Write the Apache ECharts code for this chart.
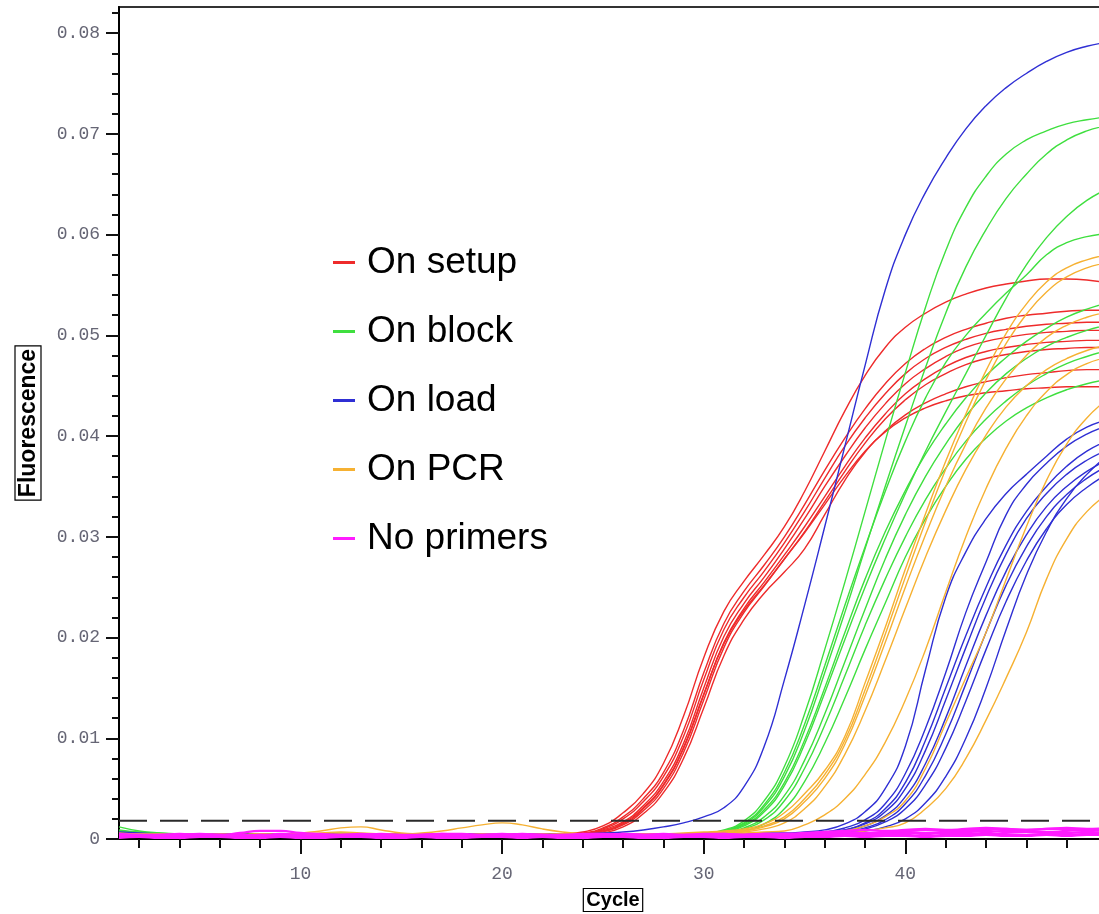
<!DOCTYPE html>
<html>
<head>
<meta charset="utf-8">
<script src="https://cdn.jsdelivr.net/npm/echarts@6/dist/echarts.min.js"></script>
<style>
  html, body { margin: 0; padding: 0; background: #fff; }
  #chart { width: 1099px; height: 914px; }
</style>
</head>
<body>
<div id="chart"></div>
<script>
// cycle numbers (x) and axis labels
var cycles = [1,2,3,4,5,6,7,8,9,10,11,12,13,14,15,16,17,18,19,20,21,22,23,24,25,26,27,28,29,30,31,32,33,34,35,36,37,38,39,40,41,42,43,44,45,46,47,48,49,50];
var xTickLabels = [10, 20, 30, 40];
var xMinorTicks = [2,4,6,8,12,14,16,18,22,24,26,28,32,34,36,38,42,44,46,48];
var yTickLabels = [0, 0.01, 0.02, 0.03, 0.04, 0.05, 0.06, 0.07, 0.08];
var threshold = 0.0018;

var groupNames = ['On setup', 'On block', 'On load', 'On PCR', 'No primers'];
var groupColors = ['#ee2b2b', '#3fdf3f', '#2f2fd4', '#f6b132', '#ff1cff'];

// fluorescence per cycle, one array per well
var setupRuns = [
  [0.0007,0.0006,0.0005,0.0005,0.0004,0.0004,0.0005,0.0004,0.0004,0.0003,0.0004,0.0005,0.0004,0.0004,0.0003,0.0004,0.0004,0.0005,0.0004,0.0003,0.0004,0.0004,0.0005,
   0.0007,0.0013,0.0026,0.0045,0.0075,0.0122,0.0180,0.0226,0.0256,0.0282,0.0310,0.0345,0.0385,0.0425,0.0460,0.0488,0.0508,0.0522,0.0533,0.0541,0.0547,0.0551,0.0554,0.0556,0.0556,0.0555,0.0552],
  [0.0005,0.0005,0.0004,0.0004,0.0005,0.0004,0.0003,0.0004,0.0004,0.0005,0.0004,0.0003,0.0003,0.0004,0.0005,0.0005,0.0004,0.0004,0.0003,0.0004,0.0004,0.0005,0.0005,
   0.0006,0.0011,0.0022,0.0040,0.0066,0.0108,0.0165,0.0214,0.0246,0.0272,0.0300,0.0332,0.0366,0.0398,0.0427,0.0452,0.0472,0.0487,0.0498,0.0506,0.0512,0.0517,0.0520,0.0522,0.0524,0.0525,0.0525],
  [0.0004,0.0004,0.0005,0.0004,0.0003,0.0004,0.0004,0.0005,0.0005,0.0004,0.0003,0.0004,0.0004,0.0005,0.0004,0.0003,0.0004,0.0005,0.0005,0.0004,0.0003,0.0004,0.0004,
   0.0005,0.0010,0.0020,0.0037,0.0062,0.0102,0.0158,0.0208,0.0240,0.0266,0.0294,0.0325,0.0358,0.0390,0.0418,0.0442,0.0462,0.0477,0.0488,0.0496,0.0502,0.0506,0.0509,0.0511,0.0512,0.0513,0.0513],
  [0.0006,0.0005,0.0004,0.0003,0.0004,0.0005,0.0004,0.0004,0.0003,0.0004,0.0005,0.0004,0.0004,0.0003,0.0004,0.0004,0.0005,0.0004,0.0003,0.0004,0.0005,0.0004,0.0004,
   0.0005,0.0009,0.0017,0.0033,0.0057,0.0095,0.0150,0.0201,0.0234,0.0260,0.0288,0.0318,0.0350,0.0380,0.0408,0.0432,0.0452,0.0467,0.0479,0.0488,0.0494,0.0498,0.0501,0.0503,0.0504,0.0505,0.0505],
  [0.0004,0.0003,0.0004,0.0005,0.0004,0.0004,0.0003,0.0003,0.0004,0.0004,0.0005,0.0004,0.0003,0.0004,0.0004,0.0003,0.0004,0.0004,0.0005,0.0004,0.0004,0.0003,0.0004,
   0.0005,0.0008,0.0015,0.0030,0.0053,0.0090,0.0143,0.0195,0.0229,0.0255,0.0282,0.0310,0.0340,0.0370,0.0398,0.0422,0.0442,0.0457,0.0469,0.0478,0.0484,0.0488,0.0491,0.0493,0.0494,0.0495,0.0495],
  [0.0005,0.0004,0.0004,0.0003,0.0003,0.0004,0.0005,0.0004,0.0004,0.0003,0.0003,0.0004,0.0004,0.0005,0.0004,0.0004,0.0003,0.0003,0.0004,0.0004,0.0005,0.0004,0.0003,
   0.0004,0.0007,0.0014,0.0028,0.0050,0.0086,0.0138,0.0190,0.0225,0.0251,0.0278,0.0305,0.0335,0.0365,0.0393,0.0417,0.0436,0.0451,0.0462,0.0471,0.0477,0.0481,0.0484,0.0486,0.0487,0.0488,0.0488],
  [0.0006,0.0005,0.0005,0.0004,0.0004,0.0003,0.0004,0.0004,0.0005,0.0004,0.0004,0.0003,0.0004,0.0005,0.0005,0.0004,0.0003,0.0004,0.0004,0.0005,0.0004,0.0003,0.0004,
   0.0005,0.0008,0.0016,0.0031,0.0054,0.0091,0.0144,0.0194,0.0227,0.0252,0.0278,0.0304,0.0332,0.0360,0.0385,0.0405,0.0421,0.0433,0.0442,0.0449,0.0454,0.0458,0.0461,0.0463,0.0465,0.0466,0.0466],
  [0.0004,0.0004,0.0003,0.0004,0.0005,0.0004,0.0004,0.0003,0.0003,0.0004,0.0004,0.0005,0.0004,0.0004,0.0003,0.0004,0.0005,0.0004,0.0003,0.0003,0.0004,0.0004,0.0004,
   0.0004,0.0006,0.0012,0.0025,0.0046,0.0080,0.0130,0.0182,0.0218,0.0244,0.0265,0.0288,0.0322,0.0356,0.0384,0.0404,0.0418,0.0428,0.0435,0.0440,0.0443,0.0445,0.0447,0.0448,0.0449,0.0449,0.0449]
];

var blockRuns = [
  [0.0012,0.0008,0.0006,0.0005,0.0005,0.0004,0.0005,0.0005,0.0004,0.0004,0.0005,0.0006,0.0005,0.0004,0.0004,0.0005,0.0005,0.0004,0.0004,0.0005,0.0004,0.0004,0.0005,0.0005,0.0004,0.0004,0.0005,0.0005,0.0005,
   0.0006,0.0009,0.0018,0.0038,0.0072,0.0124,0.0188,0.0255,0.0325,0.0395,0.0463,0.0528,0.0584,0.0627,0.0658,0.0680,0.0694,0.0703,0.0710,0.0714,0.0717],
  [0.0009,0.0007,0.0006,0.0005,0.0004,0.0004,0.0005,0.0004,0.0004,0.0005,0.0005,0.0004,0.0004,0.0003,0.0004,0.0005,0.0004,0.0004,0.0005,0.0005,0.0004,0.0004,0.0004,0.0005,0.0004,0.0004,0.0004,0.0005,0.0005,
   0.0005,0.0008,0.0015,0.0032,0.0062,0.0108,0.0165,0.0225,0.0288,0.0350,0.0410,0.0468,0.0522,0.0568,0.0605,0.0636,0.0660,0.0680,0.0694,0.0703,0.0708],
  [0.0007,0.0006,0.0005,0.0004,0.0004,0.0005,0.0004,0.0003,0.0004,0.0004,0.0005,0.0005,0.0004,0.0004,0.0005,0.0004,0.0003,0.0004,0.0004,0.0005,0.0004,0.0004,0.0005,0.0004,0.0004,0.0005,0.0004,0.0004,0.0005,
   0.0005,0.0007,0.0013,0.0027,0.0053,0.0094,0.0145,0.0198,0.0250,0.0298,0.0343,0.0385,0.0424,0.0462,0.0500,0.0537,0.0570,0.0597,0.0618,0.0634,0.0645],
  [0.0008,0.0006,0.0005,0.0005,0.0004,0.0004,0.0004,0.0005,0.0005,0.0004,0.0003,0.0004,0.0005,0.0005,0.0004,0.0004,0.0004,0.0005,0.0004,0.0003,0.0004,0.0005,0.0005,0.0004,0.0004,0.0005,0.0005,0.0004,0.0004,
   0.0005,0.0008,0.0016,0.0034,0.0066,0.0114,0.0172,0.0232,0.0290,0.0345,0.0395,0.0438,0.0473,0.0500,0.0522,0.0542,0.0560,0.0580,0.0592,0.0598,0.0601],
  [0.0006,0.0005,0.0005,0.0004,0.0005,0.0004,0.0004,0.0004,0.0003,0.0004,0.0005,0.0004,0.0004,0.0005,0.0005,0.0004,0.0004,0.0003,0.0004,0.0004,0.0005,0.0004,0.0004,0.0004,0.0005,0.0004,0.0004,0.0005,0.0004,
   0.0005,0.0008,0.0014,0.0029,0.0056,0.0098,0.0150,0.0205,0.0258,0.0305,0.0346,0.0382,0.0412,0.0438,0.0460,0.0478,0.0494,0.0507,0.0518,0.0526,0.0532],
  [0.0007,0.0005,0.0004,0.0004,0.0004,0.0005,0.0005,0.0004,0.0004,0.0003,0.0004,0.0004,0.0005,0.0004,0.0003,0.0004,0.0005,0.0005,0.0004,0.0004,0.0004,0.0005,0.0004,0.0003,0.0004,0.0004,0.0005,0.0004,0.0004,
   0.0004,0.0006,0.0011,0.0022,0.0043,0.0078,0.0124,0.0176,0.0228,0.0278,0.0322,0.0360,0.0392,0.0420,0.0443,0.0462,0.0477,0.0489,0.0498,0.0505,0.0510],
  [0.0006,0.0005,0.0004,0.0005,0.0004,0.0004,0.0003,0.0004,0.0005,0.0005,0.0004,0.0004,0.0004,0.0005,0.0004,0.0004,0.0005,0.0004,0.0003,0.0004,0.0004,0.0004,0.0005,0.0005,0.0004,0.0004,0.0004,0.0005,0.0004,
   0.0004,0.0006,0.0010,0.0019,0.0038,0.0070,0.0113,0.0162,0.0212,0.0258,0.0300,0.0337,0.0368,0.0395,0.0417,0.0435,0.0450,0.0462,0.0472,0.0479,0.0485],
  [0.0005,0.0005,0.0004,0.0004,0.0005,0.0004,0.0004,0.0005,0.0004,0.0004,0.0004,0.0003,0.0004,0.0004,0.0005,0.0005,0.0004,0.0004,0.0004,0.0005,0.0004,0.0003,0.0004,0.0004,0.0005,0.0004,0.0004,0.0004,0.0004,
   0.0004,0.0005,0.0008,0.0015,0.0030,0.0057,0.0095,0.0140,0.0188,0.0234,0.0280,0.0318,0.0350,0.0377,0.0398,0.0415,0.0428,0.0438,0.0446,0.0452,0.0456]
];

var loadRuns = [
  [0.0007,0.0006,0.0005,0.0005,0.0004,0.0004,0.0005,0.0004,0.0004,0.0004,0.0005,0.0004,0.0004,0.0005,0.0004,0.0004,0.0004,0.0005,0.0005,0.0004,0.0004,0.0005,0.0005,0.0005,0.0006,0.0007,
   0.0009,0.0012,0.0016,0.0022,0.0031,0.0052,0.0092,0.0158,0.0232,0.0310,0.0390,0.0470,0.0545,0.0600,0.0642,0.0676,0.0705,0.0728,0.0746,0.0760,0.0772,0.0781,0.0787,0.0791],
  [0.0006,0.0005,0.0004,0.0004,0.0005,0.0004,0.0003,0.0004,0.0004,0.0005,0.0004,0.0004,0.0003,0.0004,0.0005,0.0005,0.0004,0.0004,0.0003,0.0004,0.0004,0.0005,0.0004,0.0004,0.0003,0.0004,0.0004,0.0005,0.0004,0.0004,0.0005,0.0005,0.0006,0.0006,0.0007,
   0.0009,0.0015,0.0027,0.0050,0.0092,0.0168,0.0240,0.0285,0.0318,0.0343,0.0362,0.0380,0.0397,0.0409,0.0416],
  [0.0005,0.0004,0.0004,0.0003,0.0004,0.0004,0.0005,0.0004,0.0003,0.0004,0.0004,0.0003,0.0004,0.0005,0.0004,0.0004,0.0003,0.0003,0.0004,0.0004,0.0005,0.0004,0.0004,0.0003,0.0004,0.0004,0.0005,0.0004,0.0004,0.0004,0.0004,0.0005,0.0005,0.0005,0.0006,
   0.0007,0.0011,0.0019,0.0035,0.0065,0.0110,0.0165,0.0225,0.0275,0.0322,0.0352,0.0373,0.0390,0.0402,0.0410],
  [0.0004,0.0004,0.0003,0.0004,0.0004,0.0005,0.0004,0.0003,0.0003,0.0004,0.0004,0.0005,0.0004,0.0004,0.0003,0.0004,0.0004,0.0005,0.0004,0.0003,0.0004,0.0004,0.0003,0.0004,0.0005,0.0004,0.0004,0.0003,0.0004,0.0004,0.0005,0.0004,0.0005,0.0005,0.0005,
   0.0006,0.0009,0.0016,0.0030,0.0056,0.0098,0.0150,0.0202,0.0250,0.0292,0.0325,0.0350,0.0370,0.0385,0.0395],
  [0.0005,0.0005,0.0004,0.0004,0.0003,0.0004,0.0005,0.0004,0.0004,0.0003,0.0004,0.0004,0.0005,0.0004,0.0004,0.0005,0.0004,0.0003,0.0004,0.0004,0.0004,0.0005,0.0004,0.0004,0.0003,0.0004,0.0005,0.0005,0.0004,0.0004,0.0004,0.0005,0.0004,0.0005,0.0005,
   0.0006,0.0009,0.0015,0.0027,0.0050,0.0088,0.0138,0.0190,0.0240,0.0283,0.0318,0.0343,0.0362,0.0376,0.0386],
  [0.0004,0.0004,0.0004,0.0005,0.0004,0.0003,0.0004,0.0004,0.0005,0.0005,0.0004,0.0004,0.0003,0.0004,0.0004,0.0005,0.0004,0.0004,0.0003,0.0004,0.0005,0.0004,0.0004,0.0004,0.0005,0.0004,0.0003,0.0004,0.0004,0.0005,0.0004,0.0004,0.0004,0.0005,0.0005,
   0.0005,0.0008,0.0013,0.0023,0.0042,0.0075,0.0120,0.0172,0.0222,0.0266,0.0302,0.0330,0.0350,0.0365,0.0376],
  [0.0006,0.0005,0.0004,0.0004,0.0004,0.0005,0.0004,0.0004,0.0003,0.0004,0.0005,0.0004,0.0004,0.0004,0.0003,0.0004,0.0005,0.0005,0.0004,0.0004,0.0004,0.0003,0.0004,0.0005,0.0004,0.0004,0.0004,0.0005,0.0004,0.0003,0.0004,0.0004,0.0005,0.0004,0.0005,
   0.0005,0.0007,0.0011,0.0019,0.0035,0.0063,0.0104,0.0154,0.0205,0.0252,0.0290,0.0320,0.0342,0.0358,0.0370],
  [0.0005,0.0004,0.0004,0.0005,0.0004,0.0004,0.0004,0.0005,0.0004,0.0003,0.0004,0.0004,0.0004,0.0005,0.0005,0.0004,0.0004,0.0003,0.0004,0.0004,0.0005,0.0004,0.0004,0.0004,0.0004,0.0005,0.0004,0.0004,0.0003,0.0004,0.0005,0.0004,0.0004,0.0005,0.0005,
   0.0005,0.0007,0.0010,0.0017,0.0030,0.0054,0.0090,0.0137,0.0188,0.0236,0.0276,0.0308,0.0332,0.0349,0.0362],
  [0.0004,0.0005,0.0004,0.0004,0.0004,0.0005,0.0004,0.0003,0.0004,0.0004,0.0005,0.0005,0.0004,0.0004,0.0004,0.0003,0.0004,0.0005,0.0004,0.0004,0.0004,0.0004,0.0005,0.0004,0.0003,0.0004,0.0004,0.0005,0.0005,0.0004,0.0004,0.0004,0.0004,0.0005,0.0005,
   0.0005,0.0006,0.0008,0.0012,0.0020,0.0036,0.0062,0.0100,0.0150,0.0208,0.0262,0.0305,0.0338,0.0362,0.0380]
];

var pcrRuns = [
  [0.0006,0.0005,0.0005,0.0004,0.0004,0.0005,0.0004,0.0004,0.0005,0.0005,0.0006,0.0007,0.0006,0.0005,0.0004,0.0004,0.0005,0.0004,0.0004,0.0005,0.0004,0.0004,0.0005,0.0004,0.0004,0.0005,0.0005,0.0005,0.0006,0.0007,
   0.0008,0.0010,0.0015,0.0026,0.0045,0.0068,0.0102,0.0155,0.0210,0.0268,0.0323,0.0375,0.0422,0.0465,0.0502,0.0531,0.0553,0.0567,0.0575,0.0580],
  [0.0005,0.0005,0.0004,0.0004,0.0005,0.0004,0.0004,0.0005,0.0004,0.0006,0.0008,0.0011,0.0012,0.0009,0.0006,0.0005,0.0004,0.0004,0.0005,0.0004,0.0004,0.0005,0.0004,0.0004,0.0004,0.0005,0.0004,0.0005,0.0005,0.0006,
   0.0007,0.0009,0.0013,0.0022,0.0040,0.0064,0.0098,0.0148,0.0203,0.0260,0.0315,0.0367,0.0414,0.0456,0.0492,0.0521,0.0543,0.0558,0.0567,0.0572],
  [0.0005,0.0004,0.0004,0.0005,0.0005,0.0004,0.0004,0.0004,0.0005,0.0004,0.0004,0.0005,0.0005,0.0004,0.0004,0.0004,0.0005,0.0004,0.0004,0.0005,0.0004,0.0004,0.0004,0.0005,0.0004,0.0004,0.0005,0.0004,0.0005,0.0005,
   0.0006,0.0008,0.0012,0.0020,0.0037,0.0060,0.0094,0.0142,0.0195,0.0250,0.0302,0.0350,0.0392,0.0428,0.0457,0.0480,0.0498,0.0510,0.0518,0.0523],
  [0.0005,0.0004,0.0004,0.0004,0.0005,0.0004,0.0004,0.0005,0.0004,0.0004,0.0005,0.0004,0.0004,0.0005,0.0005,0.0006,0.0008,0.0011,0.0014,0.0016,0.0014,0.0010,0.0007,0.0005,0.0004,0.0004,0.0004,0.0005,0.0005,0.0005,
   0.0006,0.0007,0.0010,0.0016,0.0030,0.0052,0.0084,0.0127,0.0177,0.0229,0.0280,0.0326,0.0367,0.0401,0.0429,0.0450,0.0466,0.0477,0.0485,0.0490],
  [0.0005,0.0004,0.0004,0.0005,0.0004,0.0004,0.0005,0.0004,0.0004,0.0004,0.0005,0.0004,0.0005,0.0004,0.0004,0.0005,0.0004,0.0004,0.0004,0.0005,0.0004,0.0004,0.0005,0.0004,0.0004,0.0004,0.0005,0.0004,0.0004,0.0005,0.0005,0.0006,0.0007,
   0.0008,0.0014,0.0024,0.0040,0.0064,0.0096,0.0138,0.0188,0.0245,0.0300,0.0348,0.0388,0.0420,0.0444,0.0461,0.0472,0.0478],
  [0.0004,0.0004,0.0005,0.0004,0.0004,0.0005,0.0004,0.0004,0.0004,0.0005,0.0004,0.0004,0.0004,0.0005,0.0004,0.0004,0.0005,0.0004,0.0004,0.0004,0.0004,0.0005,0.0004,0.0004,0.0005,0.0004,0.0004,0.0004,0.0005,0.0004,0.0004,0.0005,0.0004,0.0005,0.0005,0.0006,
   0.0008,0.0013,0.0022,0.0038,0.0070,0.0115,0.0160,0.0205,0.0258,0.0310,0.0356,0.0392,0.0418,0.0436],
  [0.0005,0.0004,0.0004,0.0004,0.0005,0.0004,0.0004,0.0005,0.0004,0.0004,0.0004,0.0005,0.0004,0.0004,0.0004,0.0005,0.0004,0.0004,0.0005,0.0004,0.0004,0.0004,0.0005,0.0004,0.0004,0.0004,0.0005,0.0004,0.0004,0.0004,0.0005,0.0004,0.0004,0.0005,0.0005,0.0006,0.0006,
   0.0008,0.0011,0.0016,0.0030,0.0050,0.0080,0.0118,0.0160,0.0205,0.0258,0.0298,0.0325,0.0342]
];

var noPrimerRuns = [
  [0.0004,0.0003,0.0004,0.0003,0.0003,0.0004,0.0004,0.0003,0.0005,0.0004,0.0003,0.0003,0.0004,0.0004,0.0003,0.0004,0.0005,0.0004,0.0003,0.0003,0.0004,0.0004,0.0003,0.0004,0.0004,
   0.0005,0.0004,0.0003,0.0004,0.0004,0.0003,0.0004,0.0005,0.0004,0.0004,0.0005,0.0006,0.0005,0.0006,0.0007,0.0006,0.0007,0.0008,0.0007,0.0008,0.0008,0.0007,0.0008,0.0009,0.0008],
  [0.0002,0.0002,0.0003,0.0002,0.0002,0.0003,0.0003,0.0002,0.0002,0.0003,0.0002,0.0002,0.0003,0.0003,0.0002,0.0002,0.0002,0.0003,0.0002,0.0002,0.0003,0.0002,0.0002,0.0003,0.0002,
   0.0002,0.0003,0.0002,0.0002,0.0003,0.0003,0.0002,0.0002,0.0003,0.0003,0.0003,0.0004,0.0003,0.0004,0.0004,0.0003,0.0004,0.0004,0.0005,0.0004,0.0004,0.0005,0.0004,0.0005,0.0005],
  [0.0005,0.0004,0.0004,0.0005,0.0004,0.0004,0.0006,0.0008,0.0008,0.0006,0.0005,0.0004,0.0004,0.0005,0.0004,0.0004,0.0005,0.0005,0.0004,0.0004,0.0005,0.0004,0.0004,0.0005,0.0005,
   0.0004,0.0004,0.0005,0.0004,0.0005,0.0005,0.0004,0.0005,0.0005,0.0006,0.0007,0.0008,0.0009,0.0008,0.0009,0.0010,0.0009,0.0010,0.0011,0.0010,0.0009,0.0010,0.0011,0.0010,0.0011],
  [0.0003,0.0003,0.0002,0.0003,0.0003,0.0002,0.0003,0.0004,0.0003,0.0003,0.0002,0.0003,0.0003,0.0002,0.0003,0.0003,0.0004,0.0003,0.0003,0.0002,0.0003,0.0003,0.0004,0.0003,0.0003,
   0.0003,0.0002,0.0003,0.0003,0.0004,0.0003,0.0003,0.0004,0.0003,0.0004,0.0005,0.0004,0.0005,0.0005,0.0006,0.0005,0.0006,0.0006,0.0005,0.0006,0.0007,0.0006,0.0006,0.0007,0.0006],
  [0.0004,0.0004,0.0003,0.0004,0.0005,0.0004,0.0003,0.0004,0.0004,0.0003,0.0004,0.0004,0.0005,0.0004,0.0003,0.0004,0.0004,0.0003,0.0004,0.0005,0.0004,0.0004,0.0003,0.0004,0.0004,
   0.0005,0.0004,0.0004,0.0003,0.0004,0.0005,0.0004,0.0004,0.0005,0.0005,0.0006,0.0007,0.0006,0.0007,0.0008,0.0009,0.0008,0.0009,0.0009,0.0010,0.0009,0.0010,0.0010,0.0009,0.0010],
  [0.0001,0.0002,0.0001,0.0001,0.0002,0.0002,0.0001,0.0001,0.0002,0.0001,0.0001,0.0002,0.0002,0.0001,0.0001,0.0002,0.0001,0.0001,0.0002,0.0002,0.0001,0.0002,0.0001,0.0001,0.0002,
   0.0002,0.0001,0.0001,0.0002,0.0002,0.0001,0.0002,0.0002,0.0001,0.0002,0.0002,0.0003,0.0002,0.0003,0.0003,0.0002,0.0003,0.0003,0.0004,0.0003,0.0003,0.0004,0.0003,0.0004,0.0004]
];

// minor y ticks every 0.002
var yMinorTicks = [];
for (var k = 0; k <= 41; k++) yMinorTicks.push(+(k * 0.002).toFixed(3));

var chart = echarts.init(document.getElementById('chart'));

var series = [];
[setupRuns, blockRuns, loadRuns, pcrRuns, noPrimerRuns].forEach(function (runs, g) {
  runs.forEach(function (run) {
    series.push({
      name: groupNames[g],
      type: 'line',
      data: run.map(function (v, i) { return [cycles[i], v]; }),
      showSymbol: false,
      smooth: true,
      silent: true,
      lineStyle: { width: g === 4 ? 2.2 : 1.4, color: groupColors[g] },
      itemStyle: { color: groupColors[g] }
    });
  });
});
// threshold line
series.push({
  name: 'Threshold',
  type: 'line',
  data: [[cycles[0], threshold], [cycles[cycles.length - 1], threshold]],
  showSymbol: false,
  silent: true,
  lineStyle: { width: 2, color: '#2a2a2a', type: [28, 13] }
});

var tickStyle = { color: '#111', width: 2 };
var labelFont = { fontFamily: 'Liberation Mono', fontSize: 18, color: '#666675' };
var nameFont = {
  fontFamily: 'Liberation Sans', fontWeight: 'bold', color: '#000',
  borderColor: '#000', borderWidth: 1.2
};

var option = {
  animation: false,
  backgroundColor: '#fff',
  grid: {
    left: 119, top: 7, width: 988, height: 832,
    show: true, borderColor: '#333', borderWidth: 2,
    outerBoundsMode: 'none', containLabel: false
  },
  legend: {
    data: groupNames,
    orient: 'vertical',
    left: 333, top: 244,
    padding: 0,
    icon: 'rect',
    itemWidth: 22, itemHeight: 3,
    itemGap: 32,
    textStyle: { fontFamily: 'Liberation Sans', fontSize: 37, color: '#000', lineHeight: 37, padding: [0, 0, 0, 7] }
  },
  xAxis: [{
    type: 'value', min: 1, max: 50, position: 'bottom',
    axisLine: { show: true, onZero: false, lineStyle: { color: '#000', width: 2 } },
    axisTick: { show: true, customValues: xMinorTicks, length: 9, lineStyle: tickStyle },
    axisLabel: { show: false },
    splitLine: { show: false }
  }, {
    type: 'value', min: 1, max: 50, position: 'bottom',
    axisLine: { show: false, onZero: false },
    axisTick: { show: true, customValues: xTickLabels, length: 15, lineStyle: tickStyle },
    axisLabel: Object.assign({ customValues: xTickLabels, margin: 26 }, labelFont),
    splitLine: { show: false },
    name: 'Cycle', nameLocation: 'middle', nameGap: 44,
    nameTextStyle: Object.assign({ fontSize: 20, padding: [2, 3, 1, 3] }, nameFont)
  }],
  yAxis: [{
    type: 'value', min: 0, max: 0.0826, position: 'left',
    axisLine: { show: true, onZero: false, lineStyle: { color: '#000', width: 2 } },
    axisTick: { show: true, customValues: yMinorTicks, length: 7, lineStyle: tickStyle },
    axisLabel: { show: false },
    splitLine: { show: false }
  }, {
    type: 'value', min: 0, max: 0.0826, position: 'left',
    axisLine: { show: false, onZero: false },
    axisTick: { show: true, customValues: yTickLabels, length: 13, lineStyle: tickStyle },
    axisLabel: Object.assign({
      customValues: yTickLabels, margin: 19,
      formatter: function (v) { return v === 0 ? '0' : v.toFixed(2); }
    }, labelFont),
    splitLine: { show: false },
    name: 'Fluorescence', nameLocation: 'middle', nameGap: 78,
    nameTextStyle: Object.assign({ fontSize: 23, padding: [2, 3, 1, 3] }, nameFont)
  }],
  series: series
};

chart.setOption(option);
</script>
</body>
</html>
